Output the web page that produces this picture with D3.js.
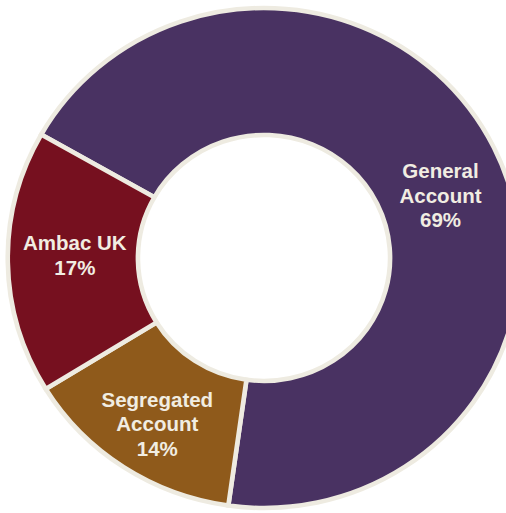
<!DOCTYPE html>
<html>
<head>
<meta charset="utf-8">
<script src="https://cdn.jsdelivr.net/npm/d3@7"></script>
<style>
  html, body { margin: 0; padding: 0; background: #fff; }
  svg { display: block; }
</style>
</head>
<body>
<svg id="chart"></svg>
<script>
// Data
const categories = ['General Account', 'Segregated Account', 'Ambac UK'];
const shares = [69, 14, 17];
const labelLines = [['General', 'Account', '69%'], ['Segregated', 'Account', '14%'], ['Ambac UK', '17%']];
const colors = ['#493262', '#8f5a1b', '#76101f'];

// Set dimensions
const width = 506;
const height = 513;
const cx = 264, cy = 258;
const stretchX = 1.025; // the original donut is a touch wider than tall
const outerR = 250;
const innerR = 123;

const svg = d3.select('#chart')
    .attr('width', width)
    .attr('height', height);

const pie = d3.pie()
    .sort(null)
    .value(d => d.value)
    .startAngle(-60.4 * Math.PI / 180)
    .endAngle(-60.4 * Math.PI / 180 + 2 * Math.PI);

const arcs = pie(categories.map((c, i) => ({ name: c, value: shares[i] })));

const arc = d3.arc()
    .innerRadius(innerR)
    .outerRadius(outerR);

// Slices
svg.append('g')
    .attr('transform', `translate(${cx},${cy}) scale(${stretchX},1)`)
    .selectAll('path')
    .data(arcs)
    .enter()
    .append('path')
    .attr('d', arc)
    .attr('fill', (d, i) => colors[i])
    .attr('stroke', '#eeebe1')
    .attr('stroke-width', 4.5)
    .attr('stroke-linejoin', 'miter');

// Labels: centroid plus a small nudge to sit where the original puts them
const labelOffset = [[5, 20], [-2, 10], [2, -6]];
const labelR = (innerR + outerR) / 2;
const lineH = 24.5;

arcs.forEach((d, i) => {
    const a = (d.startAngle + d.endAngle) / 2;
    const x = cx + stretchX * labelR * Math.sin(a) + labelOffset[i][0];
    const y = cy - labelR * Math.cos(a) + labelOffset[i][1];
    const lines = labelLines[i];
    const t = svg.append('text')
        .attr('text-anchor', 'middle')
        .attr('fill', '#f1ede2')
        .style('font-family', 'Liberation Sans, Arial, sans-serif')
        .style('font-weight', 'bold')
        .style('font-size', '20.5px');
    lines.forEach((s, j) => {
        t.append('tspan')
            .attr('x', x)
            .attr('y', y + (j - (lines.length - 1) / 2) * lineH + 7)
            .text(s);
    });
});
</script>
</body>
</html>
